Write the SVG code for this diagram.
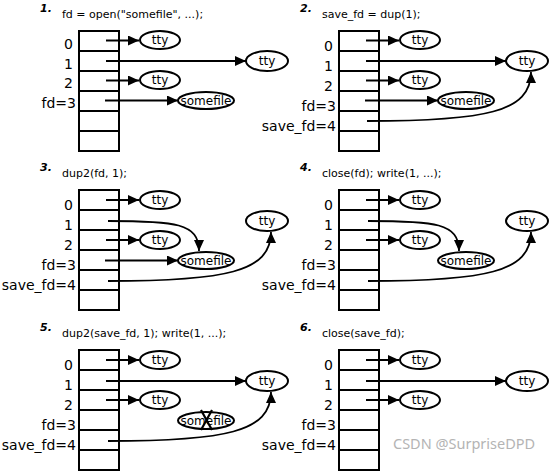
<svg xmlns="http://www.w3.org/2000/svg" xmlns:xlink="http://www.w3.org/1999/xlink" width="549" height="472" viewBox="0 0 549 472">
<style>
text{font-family:"DejaVu Sans",sans-serif;fill:#000}
.lbl{font-size:14px;text-anchor:end}
.num{font-size:11px;font-weight:bold;font-style:italic}
.cmd{font-size:11px}
.in{font-size:12px;text-anchor:middle}
.tb{fill:#fff;stroke:#000;stroke-width:2}
.el{fill:#fff;stroke:#000;stroke-width:2}
.ar{fill:none;stroke:#000;stroke-width:1.8;marker-end:url(#ah)}
.x{stroke:#000;stroke-width:2.2}
.wm{font-family:"Noto Sans","DejaVu Sans",sans-serif;font-size:14.5px;fill:#b4b4b4}
</style>
<defs>
<marker id="ah" markerUnits="userSpaceOnUse" markerWidth="12" markerHeight="10" refX="11" refY="5" orient="auto" viewBox="0 0 12 10">
<path d="M0,0 L11,5 L0,10 z" fill="#000"/>
</marker>
<g id="table">
<rect class="tb" x="79" y="31" width="40" height="120"/>
<path d="M79,51 H119 M79,71 H119 M79,91 H119 M79,111 H119 M79,131 H119" stroke="#000" stroke-width="2"/>
</g>
</defs>
<rect width="549" height="472" fill="#fff"/>

<!-- Panel 1 -->
<g id="panel1">
<text class="num" x="40" y="12">1.</text>
<text class="cmd" x="62" y="18">fd = open("somefile", ...);</text>
<g id="p1-table"><use xlink:href="#table"/>
<text class="lbl" x="73" y="49">0</text><text class="lbl" x="73" y="69">1</text><text class="lbl" x="73" y="88">2</text><text class="lbl" x="76" y="108">fd=3</text></g>
<g id="p1-tty0"><ellipse class="el" cx="160" cy="40" rx="20" ry="9"/><text class="in" x="160" y="44">tty</text></g>
<g id="p1-tty1"><ellipse class="el" cx="267" cy="61" rx="21" ry="10"/><text class="in" x="267" y="65">tty</text></g>
<g id="p1-tty2"><ellipse class="el" cx="160" cy="80" rx="20" ry="9"/><text class="in" x="160" y="84">tty</text></g>
<g id="p1-somefile"><ellipse class="el" cx="206" cy="100.5" rx="28" ry="8.5"/><text class="in" x="206" y="105">somefile</text></g>
</g>

<!-- Panel 2 -->
<g id="panel2" transform="translate(260,0)">
<text class="num" x="40" y="12">2.</text>
<text class="cmd" x="62" y="18">save_fd = dup(1);</text>
<g id="p2-table"><use xlink:href="#table"/>
<text class="lbl" x="73" y="51">0</text><text class="lbl" x="73" y="71">1</text><text class="lbl" x="73" y="91">2</text><text class="lbl" x="76" y="111">fd=3</text><text class="lbl" x="76" y="131">save_fd=4</text></g>
<g id="p2-tty0"><ellipse class="el" cx="160" cy="40" rx="20" ry="9"/><text class="in" x="160" y="44">tty</text></g>
<g id="p2-tty1"><ellipse class="el" cx="267" cy="61" rx="21" ry="10"/><text class="in" x="267" y="65">tty</text></g>
<g id="p2-tty2"><ellipse class="el" cx="160" cy="80" rx="20" ry="9"/><text class="in" x="160" y="84">tty</text></g>
<g id="p2-somefile"><ellipse class="el" cx="206" cy="100.5" rx="28" ry="8.5"/><text class="in" x="206" y="105">somefile</text></g>
</g>

<!-- Panel 3 -->
<g id="panel3" transform="translate(0,159)">
<text class="num" x="40" y="12">3.</text>
<text class="cmd" x="62" y="18">dup2(fd, 1);</text>
<g id="p3-table"><use xlink:href="#table"/>
<text class="lbl" x="73" y="51">0</text><text class="lbl" x="73" y="71">1</text><text class="lbl" x="73" y="91">2</text><text class="lbl" x="76" y="111">fd=3</text><text class="lbl" x="76" y="131">save_fd=4</text></g>
<g id="p3-tty0"><ellipse class="el" cx="160" cy="41" rx="20" ry="9"/><text class="in" x="160" y="45">tty</text></g>
<g id="p3-tty1"><ellipse class="el" cx="267" cy="62" rx="21" ry="10"/><text class="in" x="267" y="66">tty</text></g>
<g id="p3-tty2"><ellipse class="el" cx="160" cy="81" rx="20" ry="9"/><text class="in" x="160" y="85">tty</text></g>
<g id="p3-somefile"><ellipse class="el" cx="206" cy="101.5" rx="28" ry="8.5"/><text class="in" x="206" y="106">somefile</text></g>
</g>

<!-- Panel 4 -->
<g id="panel4" transform="translate(260,159)">
<text class="num" x="40" y="12">4.</text>
<text class="cmd" x="62" y="18">close(fd); write(1, ...);</text>
<g id="p4-table"><use xlink:href="#table"/>
<text class="lbl" x="73" y="51">0</text><text class="lbl" x="73" y="71">1</text><text class="lbl" x="73" y="91">2</text><text class="lbl" x="76" y="111">fd=3</text><text class="lbl" x="76" y="131">save_fd=4</text></g>
<g id="p4-tty0"><ellipse class="el" cx="160" cy="41" rx="20" ry="9"/><text class="in" x="160" y="45">tty</text></g>
<g id="p4-tty1"><ellipse class="el" cx="267" cy="62" rx="21" ry="10"/><text class="in" x="267" y="66">tty</text></g>
<g id="p4-tty2"><ellipse class="el" cx="160" cy="81" rx="20" ry="9"/><text class="in" x="160" y="85">tty</text></g>
<g id="p4-somefile"><ellipse class="el" cx="206" cy="101.5" rx="28" ry="8.5"/><text class="in" x="206" y="106">somefile</text></g>
</g>

<!-- Panel 5 -->
<g id="panel5" transform="translate(0,319)">
<text class="num" x="40" y="12">5.</text>
<text class="cmd" x="62" y="18">dup2(save_fd, 1); write(1, ...);</text>
<g id="p5-table"><use xlink:href="#table"/>
<text class="lbl" x="73" y="51">0</text><text class="lbl" x="73" y="71">1</text><text class="lbl" x="73" y="91">2</text><text class="lbl" x="76" y="111">fd=3</text><text class="lbl" x="76" y="131">save_fd=4</text></g>
<g id="p5-tty0"><ellipse class="el" cx="160" cy="41" rx="20" ry="9"/><text class="in" x="160" y="45">tty</text></g>
<g id="p5-tty1"><ellipse class="el" cx="267" cy="62" rx="21" ry="10"/><text class="in" x="267" y="66">tty</text></g>
<g id="p5-tty2"><ellipse class="el" cx="160" cy="81" rx="20" ry="9"/><text class="in" x="160" y="85">tty</text></g>
<g id="p5-somefile"><ellipse class="el" cx="206" cy="101.5" rx="28" ry="8.5"/><text class="in" x="206" y="106">somefile</text>
<path class="x" d="M201,91 L212,111 M212,91 L201,111"/></g>
</g>

<!-- Panel 6 -->
<g id="panel6" transform="translate(260,319)">
<text class="num" x="40" y="12">6.</text>
<text class="cmd" x="62" y="18">close(save_fd);</text>
<g id="p6-table"><use xlink:href="#table"/>
<text class="lbl" x="73" y="51">0</text><text class="lbl" x="73" y="71">1</text><text class="lbl" x="73" y="91">2</text><text class="lbl" x="76" y="111">fd=3</text><text class="lbl" x="76" y="131">save_fd=4</text></g>
<g id="p6-tty0"><ellipse class="el" cx="160" cy="41" rx="20" ry="9"/><text class="in" x="160" y="45">tty</text></g>
<g id="p6-tty1"><ellipse class="el" cx="267" cy="62" rx="21" ry="10"/><text class="in" x="267" y="66">tty</text></g>
<g id="p6-tty2"><ellipse class="el" cx="160" cy="81" rx="20" ry="9"/><text class="in" x="160" y="85">tty</text></g>
</g>

<!-- Connectors -->
<g id="connectors">
<g transform="translate(0,0)">
<path class="ar" d="M106,40.5 H139"/>
<path class="ar" d="M106,61 H246"/>
<path class="ar" d="M106,80.5 H139"/>
<path class="ar" d="M105,100.5 H178"/>
</g>
<g transform="translate(260,0)">
<path class="ar" d="M106,40.5 H139"/>
<path class="ar" d="M106,61 H246"/>
<path class="ar" d="M106,80.5 H139"/>
<path class="ar" d="M105,100.5 H178"/>
<path class="ar" d="M107,121 C225,121 271,112 271,72"/>
</g>
<g transform="translate(0,159)">
<path class="ar" d="M106,41 H139"/>
<path class="ar" d="M108,62 C175,62 199,64 199,92"/>
<path class="ar" d="M106,81 H139"/>
<path class="ar" d="M105,101.5 H178"/>
<path class="ar" d="M108,122 C225,122 271,113 271,73"/>
</g>
<g transform="translate(260,159)">
<path class="ar" d="M106,41 H139"/>
<path class="ar" d="M108,62 C175,62 199,64 199,92"/>
<path class="ar" d="M106,81 H139"/>
<path class="ar" d="M108,122 C225,122 271,113 271,73"/>
</g>
<g transform="translate(0,319)">
<path class="ar" d="M106,41 H139"/>
<path class="ar" d="M106,62 H246"/>
<path class="ar" d="M106,81 H139"/>
<path class="ar" d="M108,122 C225,122 271,113 271,73"/>
</g>
<g transform="translate(260,319)">
<path class="ar" d="M106,41 H139"/>
<path class="ar" d="M106,62 H246"/>
<path class="ar" d="M106,81 H139"/>
</g>
</g>

<text class="wm" x="393" y="449">CSDN @SurpriseDPD</text>
</svg>
